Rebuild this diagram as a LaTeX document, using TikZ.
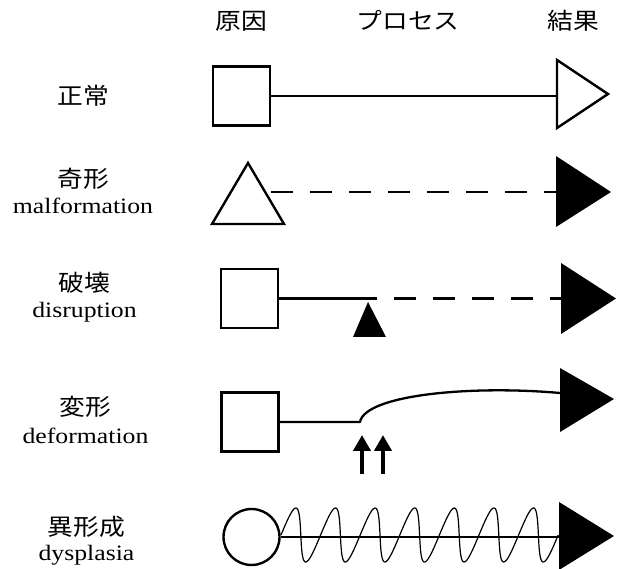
\documentclass[tikz,border=0pt]{standalone}
\usepackage{fontspec}
\setmainfont{Liberation Serif}
\newfontfamily\jpfont{Noto Sans CJK JP}
\usepackage{graphicx}
\usetikzlibrary{arrows.meta}
\newcommand{\jx}[1]{\scalebox{1.12}[1]{#1}}
\newcommand{\ex}[1]{\scalebox{1.17}[1]{#1}}
\begin{document}
\begin{tikzpicture}[x=1pt,y=-1pt,
  jp/.style={font=\jpfont\fontsize{23}{23}\selectfont, inner sep=0pt},
  en/.style={font=\fontsize{22}{22}\selectfont, inner sep=0pt, anchor=base},
  box/.style={draw, line width=2.4pt, minimum width=57pt, minimum height=59pt, inner sep=0pt},
  circ/.style={draw, circle, line width=2.4pt, minimum size=56pt, inner sep=0pt},
  outl/.style={draw, line width=2.4pt, line join=miter},
  conn/.style={line width=2.3pt},
  upar/.style={line width=4pt, -{Triangle[width=17pt,length=16pt]}},
  wave/.style={line width=1.2pt}
]
\fill[white] (0,0) rectangle (619,569);
\useasboundingbox (0,0) rectangle (619,569);

% headers
\node[jp] (hcause) at (241,21) {\jx{原因}};
\node[jp] (hproc) at (408,20) {\jx{プロセス}};
\node[jp] (hres) at (573,21) {\jx{結果}};

% row 1
\node[jp] (l1) at (83,96) {\jx{正常}};
\node[box] (c1) at (241.5,96) {};
\draw[outl] (557,60) -- (608,94) -- (557,128) -- cycle;
\coordinate (r1) at (557,96);
\draw[conn] (c1.east) -- (r1);

% row 2
\node[jp] (l2) at (83,179) {\jx{奇形}};
\node[en] (e2) at (83,214) {\ex{malformation}};
\draw[outl] (212,224) -- (248,163) -- (284,224) -- cycle;
\coordinate (c2) at (271,192);
\coordinate (r2) at (556,192);
\fill (556,156) -- (611,192) -- (556,227) -- cycle;
\draw[conn, dash pattern=on 21.5pt off 17.5pt] (c2) -- (r2);

% row 3
\node[jp] (l3) at (84.5,283) {\jx{破壊}};
\node[en] (e3) at (84.5,318) {\ex{disruption}};
\node[box] (c3) at (249.5,298.5) {};
\coordinate (b3) at (377,298.5);
\coordinate (r3) at (561,298.5);
\draw[conn] (c3.east) -- (b3);
\draw[conn, dash pattern=on 22pt off 17pt, dash phase=22pt] (b3) -- (r3);
\fill (368,302) -- (386,337) -- (353,337) -- cycle;
\fill (561,263) -- (616,298.5) -- (561,334) -- cycle;

% row 4
\node[jp] (l4) at (85,407) {\jx{変形}};
\node[en] (e4) at (85.5,444) {\ex{deformation}};
\node[box] (c4) at (250,422) {};
\coordinate (b4) at (360,422);
\coordinate (r4) at (560,393);
\draw[conn, line join=round] (c4.east) -- (b4) .. controls (365,395) and (470,385) .. (r4);
\fill (560,368) -- (614,399) -- (560,432) -- cycle;
\coordinate (a1s) at (362,474);
\coordinate (a1e) at (362,435);
\coordinate (a2s) at (383,474);
\coordinate (a2e) at (383,435);
\draw[upar] (a1s) -- (a1e);
\draw[upar] (a2s) -- (a2e);

% row 5
\node[jp] (l5) at (86.5,527) {\jx{異形成}};
\node[en] (e5) at (86.5,560) {\ex{dysplasia}};
\node[circ] (c5) at (251.5,537) {};
\coordinate (r5) at (559,537);
\draw[conn] (c5.east) -- (r5);
\draw[wave] plot[domain=90:2610, samples=400, variable=\t, smooth]
  ({266.1+39.6*(\t/360)+5*(1-cos(\t))}, {535+27*cos(\t)});
\fill (559,502) -- (614,536) -- (559,570) -- cycle;
\end{tikzpicture}
\end{document}
